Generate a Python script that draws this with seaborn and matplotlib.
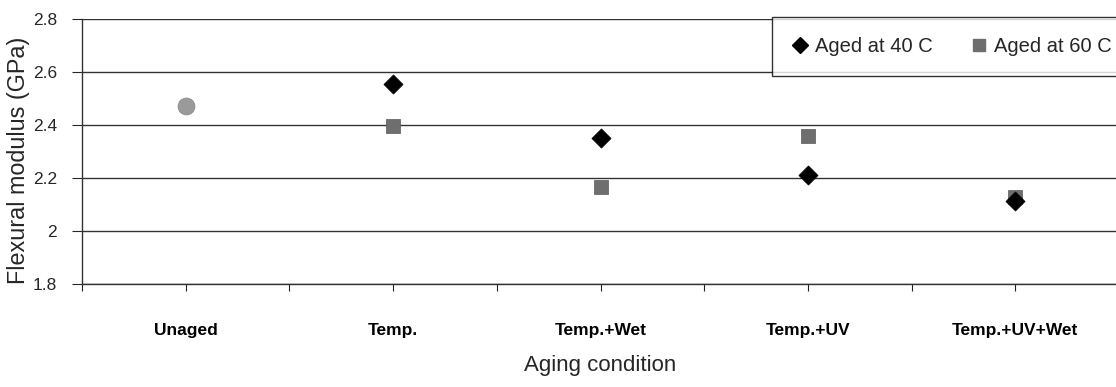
import matplotlib
matplotlib.use("Agg")
import matplotlib.pyplot as plt
import seaborn as sns
import pandas as pd
from matplotlib.lines import Line2D
from matplotlib.ticker import FixedLocator

categories = ["Unaged", "Temp.", "Temp.+Wet", "Temp.+UV", "Temp.+UV+Wet"]
unaged_value = [2.47]
aged40 = [2.555, 2.35, 2.21, 2.115]
aged60 = [2.395, 2.165, 2.36, 2.128]
aged_conditions = categories[1:]
series_names = ["Aged at 40 C", "Aged at 60 C"]
y_ticks = [1.8, 2.0, 2.2, 2.4, 2.6, 2.8]
y_ticklabels = ["1.8", "2", "2.2", "2.4", "2.6", "2.8"]

sns.set_style("white")
plt.rcParams['font.family'] = ['Liberation Sans', 'DejaVu Sans']

df_unaged = pd.DataFrame({"cond": [categories[0]], "value": unaged_value})
df40 = pd.DataFrame({"cond": aged_conditions, "value": aged40})
df60 = pd.DataFrame({"cond": aged_conditions, "value": aged60})
for d in (df_unaged, df40, df60):
    d["x"] = d["cond"].map({c: i for i, c in enumerate(categories)})

fig = plt.figure(figsize=(11.16, 3.87), dpi=100)
ax = fig.add_axes([82/1116, 1 - 284/387, (1119 - 82)/1116, (284 - 19)/387])

sns.scatterplot(data=df_unaged, x="x", y="value", ax=ax, marker="o", s=150,
                color="#9a9a9a", edgecolor="#8a8a8a", linewidth=0.5, zorder=3, legend=False)
sns.scatterplot(data=df60, x="x", y="value", ax=ax, marker="s", s=110,
                color="#6e6e6e", edgecolor="#5a5a5a", linewidth=0.5, zorder=3, legend=False)
sns.scatterplot(data=df40, x="x", y="value", ax=ax, marker="D", s=95,
                color="#000000", edgecolor="#000000", linewidth=0.5, zorder=4, legend=False)

ax.set_xlim(-0.5, 4.5)
ax.set_ylim(1.8, 2.8)
ax.set_yticks(y_ticks)
ax.set_yticklabels(y_ticklabels, fontsize=12.5)
ax.set_xticks(range(len(categories)))
ax.set_xticklabels(categories, fontsize=12.5, fontweight="bold")
ax.xaxis.set_minor_locator(FixedLocator([i + 0.5 for i in range(-1, len(categories))]))
ax.tick_params(axis="x", which="both", direction="out", length=5, width=0.8,
               colors="#222222", labelcolor="black", pad=23, bottom=True)
ax.tick_params(axis="y", direction="out", length=7, width=0.8, left=True, pad=11)
ax.grid(axis="y", color="#333333", linewidth=1.0)
ax.set_axisbelow(True)
for s in ["top", "right"]:
    ax.spines[s].set_visible(False)
for s in ["left", "bottom"]:
    ax.spines[s].set_color("#333333")
    ax.spines[s].set_linewidth(1.0)

ax.set_ylabel("Flexural modulus (GPa)", fontsize=16.8)
ax.yaxis.set_label_coords((30 - 82) / 1037, (284 - 160) / 265)
ax.set_xlabel("Aging condition", fontsize=16, labelpad=12)

handles = [
    Line2D([], [], marker="D", color="black", linestyle="none", markersize=8),
    Line2D([], [], marker="s", color="#6e6e6e", linestyle="none", markersize=9),
]
leg = fig.legend(handles, series_names, ncol=2, fontsize=14.5,
                 loc="upper left", bbox_to_anchor=(772/1116, 1 - 17/387),
                 borderaxespad=0.0,
                 frameon=True, fancybox=False, edgecolor="black",
                 handletextpad=0.35, columnspacing=1.9, borderpad=1.0,
                 handlelength=0.8)
leg.get_frame().set_linewidth(1.0)

fig.savefig("out.png", dpi=100)
